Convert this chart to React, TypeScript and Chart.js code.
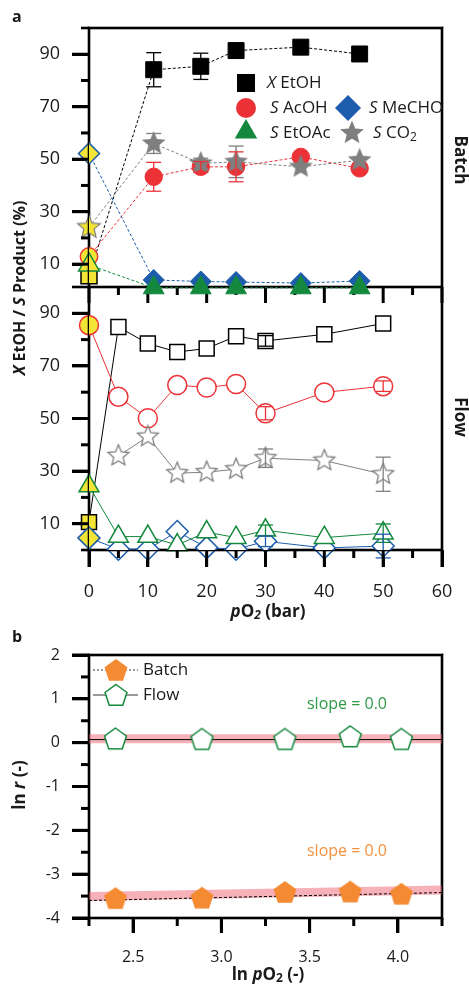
import React, { useEffect, useRef } from 'react';
import { Chart, registerables } from 'chart.js';

Chart.register(...registerables);

const FONT = '"Open Sans", "Liberation Sans", sans-serif';
const BLACK = '#000000';
const RED = '#ec3237';
const BLUE = '#1c5cab';
const GREEN = '#14893d';
const GREY = '#7f7f7f';
const YELLOW = '#f2e535';
const ORANGE = '#f48a32';
const WHITE = '#ffffff';
const BAND = 'rgba(238,100,115,0.5)';
const TXT = '#1a1a1a';

// ---------- Panel a: batch ----------
const batchP = [0, 11, 19, 25, 36, 46];
const batchXEtOH = [5.6, 84.1, 85.4, 91.4, 92.7, 90.1];
const batchXEtOHErr = [0, 6.5, 5, 0, 0, 0];
const batchSAcOH = [12.9, 43.3, 47.1, 47.1, 50.9, 46.5];
const batchSAcOHErr = [0, 5.5, 2, 5.7, 0, 0];
const batchSMeCHO = [52.2, 4.0, 3.4, 3.2, 2.8, 3.6];
const batchSEtOAc = [9.7, 1.0, 1.0, 1.0, 1.0, 1.0];
const batchSCO2 = [24, 56.0, 48.4, 49.0, 47.1, 49.6];
const batchSCO2Err = [0, 3.8, 2, 6, 0, 0];

// ---------- Panel a: flow ----------
const flowP = [0, 5, 10, 15, 20, 25, 30, 40, 50];
const flowXEtOH = [10.6, 84.8, 78.5, 75.3, 76.6, 81.3, 79.5, 82.0, 86.1];
const flowXEtOHErr = [0, 0, 0, 0, 0, 0, 2, 0, 0];
const flowSAcOH = [85.5, 58.3, 50.1, 62.7, 61.8, 63.1, 52.0, 59.9, 62.3];
const flowSAcOHErr = [0, 0, 0, 0, 0, 0, 2.5, 0, 2];
const flowSMeCHO = [4.6, 0.3, 0.3, 7.0, 0.9, 0.3, 3.3, 0.8, 1.5];
const flowSMeCHOErr = [0, 0, 0, 0, 0, 0, 2, 0, 4.5];
const flowSEtOAc = [24.3, 5.1, 5.1, 1.9, 6.8, 4.7, 7.5, 4.7, 6.4];
const flowSEtOAcErr = [0, 0, 0, 0, 0, 0, 2, 0, 3.5];
const flowPCO2 = [5, 10, 15, 20, 25, 30, 40, 50];
const flowSCO2 = [35.8, 43.1, 29.2, 29.6, 30.7, 34.9, 34.0, 28.8];
const flowSCO2Err = [0, 0, 0, 0, 0, 3.5, 0, 6.5];

// ---------- Panel b ----------
const lnP = [2.40, 2.89, 3.36, 3.73, 4.02];
const batchLnR = [-3.57, -3.56, -3.43, -3.42, -3.47];
const flowLnR = [0.07, 0.06, 0.06, 0.12, 0.06];
const fitX = [2.25, 4.25];
const flowFit = [0.07, 0.07];
const batchFit = [-3.6, -3.42];
const flowBand = [0.09, 0.09];
const batchBand = [-3.51, -3.36];

// ---------- ticks ----------
const xTicksA = [0, 10, 20, 30, 40, 50, 60];
const xMinorA = [5, 15, 25, 35, 45, 55];
const yTicksA = [10, 30, 50, 70, 90];
const yMinorA = [20, 40, 60, 80];
const xTicksB = [2.5, 3.0, 3.5, 4.0];
const xMinorB = [2.25, 2.75, 3.25, 3.75, 4.25];
const yTicksB = [-4, -3, -2, -1, 0, 1, 2];
const yMinorB = [-3.5, -2.5, -1.5, -0.5, 0.5, 1.5];

const pts = (xs: number[], ys: number[]) => xs.map((x, i) => ({ x, y: ys[i] }));

function tracePath(g: CanvasRenderingContext2D, shape: string, x: number, y: number, r: number) {
  g.beginPath();
  if (shape === 'circle') {
    g.arc(x, y, r, 0, Math.PI * 2);
  } else if (shape === 'square') {
    const s = r * Math.SQRT1_2;
    g.rect(x - s, y - s, 2 * s, 2 * s);
  } else if (shape === 'diamond') {
    g.moveTo(x - r, y); g.lineTo(x, y - r); g.lineTo(x + r, y); g.lineTo(x, y + r); g.closePath();
  } else if (shape === 'triangle') {
    g.moveTo(x, y - r); g.lineTo(x + 0.866 * r, y + 0.5 * r); g.lineTo(x - 0.866 * r, y + 0.5 * r); g.closePath();
  } else if (shape === 'star') {
    for (let i = 0; i < 10; i++) {
      const a = -Math.PI / 2 + (i * Math.PI) / 5;
      const rr = i % 2 === 0 ? r : r * 0.45;
      const px = x + rr * Math.cos(a);
      const py = y + rr * Math.sin(a);
      if (i === 0) g.moveTo(px, py); else g.lineTo(px, py);
    }
    g.closePath();
  } else if (shape === 'pentagon') {
    for (let i = 0; i < 5; i++) {
      const a = -Math.PI / 2 + (i * 2 * Math.PI) / 5;
      const px = x + r * Math.cos(a);
      const py = y + r * Math.sin(a);
      if (i === 0) g.moveTo(px, py); else g.lineTo(px, py);
    }
    g.closePath();
  }
}

function drawShape(g: CanvasRenderingContext2D, shape: string, x: number, y: number, r: number, fill: string | null, stroke: string | null, lw: number) {
  g.save();
  g.setLineDash([]);
  tracePath(g, shape, x, y, r);
  if (fill) { g.fillStyle = fill; g.fill(); }
  if (stroke && lw > 0) { g.lineWidth = lw; g.strokeStyle = stroke; g.lineJoin = 'miter'; g.stroke(); }
  g.restore();
}

function makeImage(shape: string, r: number, fill: string | null, stroke: string | null, lw: number) {
  const size = Math.ceil(2 * r + lw + 4);
  const c = document.createElement('canvas');
  c.width = size; c.height = size;
  const g = c.getContext('2d')!;
  drawShape(g, shape, size / 2, size / 2, r, fill, stroke, lw);
  return c;
}

type Part = { t: string; f: string; dy?: number };
function drawRich(g: CanvasRenderingContext2D, parts: Part[], x: number, y: number, angle: number, align: 'center' | 'left', color: string) {
  g.save();
  g.translate(x, y);
  g.rotate(angle);
  g.textBaseline = 'middle';
  g.textAlign = 'left';
  g.fillStyle = color;
  let w = 0;
  for (const p of parts) { g.font = p.f; w += g.measureText(p.t).width; }
  let cx = align === 'center' ? -w / 2 : 0;
  for (const p of parts) {
    g.font = p.f;
    g.fillText(p.t, cx, p.dy || 0);
    cx += g.measureText(p.t).width;
  }
  g.restore();
}

const fB = (s: number) => `bold ${s}px ${FONT}`;
const fBI = (s: number) => `italic bold ${s}px ${FONT}`;
const fR = (s: number) => `${s}px ${FONT}`;
const fI = (s: number) => `italic ${s}px ${FONT}`;

const AW = 2.6; // axis line width
const TW = 3; // tick width

function hbar(g: CanvasRenderingContext2D, x1: number, x2: number, y: number, w: number) {
  g.fillStyle = BLACK;
  g.fillRect(Math.min(x1, x2), y - w / 2, Math.abs(x2 - x1), w);
}
function vbar(g: CanvasRenderingContext2D, x: number, y1: number, y2: number, w: number) {
  g.fillStyle = BLACK;
  g.fillRect(x - w / 2, Math.min(y1, y2), w, Math.abs(y2 - y1));
}

function seg(g: CanvasRenderingContext2D, x1: number, y1: number, x2: number, y2: number) {
  g.beginPath();
  g.moveTo(x1, y1);
  g.lineTo(x2, y2);
  g.stroke();
}

function frameInner(g: CanvasRenderingContext2D, a: any) {
  const h = AW / 2;
  g.fillStyle = BLACK;
  g.fillRect(a.left, a.top, a.right - a.left, h);
  g.fillRect(a.left, a.bottom - h, a.right - a.left, h);
  g.fillRect(a.left, a.top, h, a.bottom - a.top);
  g.fillRect(a.right - h, a.top, h, a.bottom - a.top);
}
function frameOuter(g: CanvasRenderingContext2D, a: any) {
  const h = AW / 2;
  g.fillStyle = BLACK;
  g.fillRect(a.left - h, a.top - h, a.right - a.left + 2 * h, h);
  g.fillRect(a.left - h, a.bottom, a.right - a.left + 2 * h, h);
  g.fillRect(a.left - h, a.top - h, h, a.bottom - a.top + 2 * h);
  g.fillRect(a.right, a.top - h, h, a.bottom - a.top + 2 * h);
}

function drawErrorBars(chart: any) {
  const g = chart.ctx;
  chart.data.datasets.forEach((ds: any, i: number) => {
    if (!ds.errors) return;
    const meta = chart.getDatasetMeta(i);
    const ys = chart.scales[ds.yAxisID || 'y'];
    g.save();
    g.strokeStyle = ds.borderColor;
    g.lineWidth = 1.3;
    g.setLineDash([]);
    ds.errors.forEach((e: number, j: number) => {
      if (!e) return;
      const x = meta.data[j].x;
      const v = ds.data[j].y;
      const y1 = ys.getPixelForValue(v + e);
      const y2 = ys.getPixelForValue(v - e);
      seg(g, x, y1, x, y2);
      seg(g, x - 7.5, y1, x + 7.5, y1);
      seg(g, x - 7.5, y2, x + 7.5, y2);
    });
    g.restore();
  });
}

const pluginA = {
  id: 'panelA',
  beforeDatasetsDraw(chart: any) {
    const g = chart.ctx;
    const a = chart.chartArea;
    const xs = chart.scales.x, yf = chart.scales.yFlow;
    g.save();
    frameInner(g, a);
    hbar(g, a.left, a.right, yf.top, AW);
    xTicksA.forEach((v) => vbar(g, xs.getPixelForValue(v), yf.top, yf.top + 16, TW));
    xMinorA.forEach((v) => vbar(g, xs.getPixelForValue(v), yf.top, yf.top + 8, TW));
    g.restore();
  },
  afterDatasetsDraw(chart: any) {
    drawErrorBars(chart);
  },
  afterDraw(chart: any) {
    const g = chart.ctx;
    const a = chart.chartArea;
    const xs = chart.scales.x, yb = chart.scales.yBatch, yf = chart.scales.yFlow;
    g.save();
    frameOuter(g, a);
    const L = a.left;
    yTicksA.forEach((v) => {
      hbar(g, L - 17, L, yb.getPixelForValue(v), TW);
      hbar(g, L - 17, L, yf.getPixelForValue(v), TW);
    });
    yMinorA.forEach((v) => {
      hbar(g, L - 8, L, yb.getPixelForValue(v), TW);
      hbar(g, L - 8, L, yf.getPixelForValue(v), TW);
    });
    hbar(g, L - 8, L, a.top, AW);
    hbar(g, L - 17, L, yf.top, AW);
    hbar(g, L - 8, L, a.bottom, AW);
    xTicksA.forEach((v) => vbar(g, xs.getPixelForValue(v), a.bottom, a.bottom + 17, TW));
    xMinorA.forEach((v) => vbar(g, xs.getPixelForValue(v), a.bottom, a.bottom + 8, TW));
    g.restore();

    drawRich(g, [{ t: 'a', f: fB(16) }], 12, 17, 0, 'left', TXT);
    drawRich(g, [
      { t: 'X', f: fBI(16) }, { t: ' EtOH / ', f: fB(16) },
      { t: 'S', f: fBI(16) }, { t: ' Product (%)', f: fB(16) },
    ], 20, 288, -Math.PI / 2, 'center', TXT);
    drawRich(g, [
      { t: 'p', f: fBI(17) }, { t: 'O', f: fB(17) }, { t: '2', f: fBI(12), dy: 4 }, { t: ' (bar)', f: fB(17) },
    ], 268, 612, 0, 'center', TXT);
    drawRich(g, [{ t: 'Batch', f: fB(17) }], 460, 160, Math.PI / 2, 'center', TXT);
    drawRich(g, [{ t: 'Flow', f: fB(17) }], 460, 417, Math.PI / 2, 'center', TXT);
    drawShape(g, 'square', 246, 83, 12.7, BLACK, null, 0);
    drawRich(g, [{ t: 'X', f: fI(17) }, { t: ' EtOH', f: fR(17) }], 267, 83, 0, 'left', TXT);
    drawShape(g, 'circle', 246, 108, 10, RED, null, 0);
    drawRich(g, [{ t: 'S', f: fI(17) }, { t: ' AcOH', f: fR(17) }], 270, 108, 0, 'left', TXT);
    drawShape(g, 'diamond', 348, 108, 13, BLUE, null, 0);
    drawRich(g, [{ t: 'S', f: fI(17) }, { t: ' MeCHO', f: fR(17) }], 369, 108, 0, 'left', TXT);
    drawShape(g, 'triangle', 246, 132, 13, GREEN, null, 0);
    drawRich(g, [{ t: 'S', f: fI(17) }, { t: ' EtOAc', f: fR(17) }], 270, 133, 0, 'left', TXT);
    drawShape(g, 'star', 352, 133, 12.5, GREY, null, 0);
    drawRich(g, [{ t: 'S', f: fI(17) }, { t: ' CO', f: fR(17) }, { t: '2', f: fR(12), dy: 5 }], 373, 133, 0, 'left', TXT);
  },
};

const pluginB = {
  id: 'panelB',
  beforeDatasetsDraw(chart: any) {
    const g = chart.ctx;
    g.save();
    frameInner(g, chart.chartArea);
    g.restore();
  },
  afterDraw(chart: any) {
    const g = chart.ctx;
    const a = chart.chartArea;
    const xs = chart.scales.x, ys = chart.scales.y;
    g.save();
    frameOuter(g, a);
    const L = a.left;
    yTicksB.forEach((v) => hbar(g, L - 17, L, ys.getPixelForValue(v), TW));
    yMinorB.forEach((v) => hbar(g, L - 8, L, ys.getPixelForValue(v), TW));
    xTicksB.forEach((v) => vbar(g, xs.getPixelForValue(v), a.bottom, a.bottom + 15, TW));
    xMinorB.forEach((v) => vbar(g, xs.getPixelForValue(v), a.bottom, a.bottom + 8, TW));
    g.restore();

    drawRich(g, [{ t: 'b', f: fB(16) }], 12, 9, 0, 'left', TXT);
    drawRich(g, [{ t: 'ln ', f: fB(17) }, { t: 'r', f: fBI(17) }, { t: ' (-)', f: fB(17) }], 20, 157, -Math.PI / 2, 'center', TXT);
    drawRich(g, [
      { t: 'ln ', f: fB(17) }, { t: 'p', f: fBI(17) }, { t: 'O', f: fB(17) }, { t: '2', f: fB(12), dy: 4 }, { t: ' (-)', f: fB(17) },
    ], 268, 347, 0, 'center', TXT);
    g.save();
    g.strokeStyle = '#333333';
    g.lineWidth = 1;
    g.setLineDash([2, 2]);
    seg(g, 93, 42, 138, 42);
    g.setLineDash([]);
    seg(g, 93, 67, 138, 67);
    g.restore();
    drawShape(g, 'pentagon', 116, 43, 12, ORANGE, null, 0);
    drawShape(g, 'pentagon', 116, 68, 11.5, WHITE, GREEN, 1.5);
    drawRich(g, [{ t: 'Batch', f: fR(17) }], 143, 42, 0, 'left', TXT);
    drawRich(g, [{ t: 'Flow', f: fR(17) }], 143, 67, 0, 'left', TXT);
    drawRich(g, [{ t: 'slope = 0.0', f: fR(16) }], 347, 76, 0, 'center', '#2e9a46');
    drawRich(g, [{ t: 'slope = 0.0', f: fR(16) }], 347, 223, 0, 'center', '#f4913f');
  },
};

const majorGrid = (len: number) => ({
  display: true,
  drawOnChartArea: false,
  drawTicks: true,
  tickLength: len,
  tickWidth: TW,
  tickColor: BLACK,
  color: BLACK,
  lineWidth: TW,
});

function batchDs(label: string, ys: number[], errs: number[] | null, color: string, style: any, radius: number) {
  return {
    label,
    data: pts(batchP, ys),
    errors: errs,
    yAxisID: 'yBatch',
    showLine: true,
    borderColor: color,
    borderWidth: 1,
    borderDash: [3, 2],
    pointStyle: style,
    pointRadius: radius,
    pointBackgroundColor: batchP.map((_, i) => (i === 0 ? YELLOW : color)),
    pointBorderColor: color,
    pointBorderWidth: batchP.map((_, i) => (i === 0 ? 1.5 : 1)),
    clip: false,
  };
}

function flowDs(label: string, xs: number[], ys: number[], errs: number[] | null, color: string, style: any, radius: number, yellowFirst: boolean) {
  return {
    label,
    data: pts(xs, ys),
    errors: errs,
    yAxisID: 'yFlow',
    showLine: true,
    borderColor: color,
    borderWidth: 1,
    pointStyle: style,
    pointRadius: radius,
    pointBackgroundColor: xs.map((_, i) => (i === 0 && yellowFirst ? YELLOW : WHITE)),
    pointBorderColor: color,
    pointBorderWidth: 1.5,
    clip: false,
  };
}

function configA(): any {
  const yellowStar = makeImage('star', 12, YELLOW, GREY, 1.2);
  const greyStar = makeImage('star', 12.5, GREY, null, 0);
  const openStar = makeImage('star', 11, WHITE, GREY, 1.3);
  const tickFont = { family: FONT, size: 18 };
  const yScale = (min: number, weight: number, sw: number) => ({
    type: 'linear',
    position: 'left',
    stack: 'a',
    stackWeight: sw,
    weight,
    min,
    max: 100,
    afterBuildTicks: (s: any) => { s.ticks = yTicksA.map(v => ({ value: v })); },
    afterFit: (s: any) => { s.width = 89; },
    ticks: { font: tickFont, color: TXT, padding: 12, autoSkip: false },
    grid: majorGrid(17),
    border: { display: false },
  });
  return {
    type: 'scatter',
    data: {
      datasets: [
        batchDs('S EtOAc batch', batchSEtOAc, null, GREEN, 'triangle', 12),
        batchDs('S MeCHO batch', batchSMeCHO, null, BLUE, 'rectRot', 10.5),
        { ...batchDs('S CO2 batch', batchSCO2, batchSCO2Err, GREY, 'star', 12), pointStyle: batchP.map((_, i) => (i === 0 ? yellowStar : greyStar)) },
        batchDs('S AcOH batch', batchSAcOH, batchSAcOHErr, RED, 'circle', 8.7),
        batchDs('X EtOH batch', batchXEtOH, batchXEtOHErr, BLACK, 'rect', 11.3),
        flowDs('S EtOAc flow', flowP, flowSEtOAc, flowSEtOAcErr, GREEN, 'triangle', 11.5, true),
        flowDs('S MeCHO flow', flowP, flowSMeCHO, flowSMeCHOErr, BLUE, 'rectRot', 11, true),
        { ...flowDs('S CO2 flow', flowPCO2, flowSCO2, flowSCO2Err, GREY, 'star', 11, false), pointStyle: openStar },
        flowDs('S AcOH flow', flowP, flowSAcOH, flowSAcOHErr, RED, 'circle', 9.5, true),
        flowDs('X EtOH flow', flowP, flowXEtOH, flowXEtOHErr, BLACK, 'rect', 10.6, true),
      ],
    },
    options: {
      animation: false,
      responsive: false,
      devicePixelRatio: 1,
      events: [],
      layout: { padding: { left: 0, right: 27, top: 28, bottom: 0 } },
      plugins: { legend: { display: false }, tooltip: { enabled: false } },
      scales: {
        x: {
          type: 'linear',
          position: 'bottom',
          min: 0,
          max: 60,
          afterBuildTicks: (s: any) => { s.ticks = xTicksA.map(v => ({ value: v })); },
          afterFit: (s: any) => { s.height = 78; },
          ticks: { font: tickFont, color: TXT, padding: 14, autoSkip: false, maxRotation: 0 },
          grid: majorGrid(17),
          border: { display: false },
        },
        yFlow: yScale(0, 0, 263),
        yBatch: yScale(1.3, 1, 259),
      },
    },
    plugins: [pluginA],
  };
}

function configB(): any {
  const orangePent = makeImage('pentagon', 12, ORANGE, null, 0);
  const openPent = makeImage('pentagon', 11.5, WHITE, GREEN, 1.5);
  const tickFont = { family: FONT, size: 16 };
  return {
    type: 'scatter',
    data: {
      datasets: [
        { label: 'Flow', data: pts(lnP, flowLnR), pointStyle: openPent, pointRadius: 11, clip: false },
        { label: 'Batch', data: pts(lnP, batchLnR), pointStyle: orangePent, pointRadius: 11, clip: false },
        { label: 'Flow fit', data: pts(fitX, flowFit), showLine: true, borderColor: BLACK, borderWidth: 1, pointRadius: 0 },
        { label: 'Batch fit', data: pts(fitX, batchFit), showLine: true, borderColor: BLACK, borderWidth: 1, borderDash: [3, 2], pointRadius: 0 },
        { label: 'Flow band', data: pts(fitX, flowBand), showLine: true, borderColor: BAND, borderWidth: 9, borderCapStyle: 'butt', pointRadius: 0 },
        { label: 'Batch band', data: pts(fitX, batchBand), showLine: true, borderColor: BAND, borderWidth: 9, borderCapStyle: 'butt', pointRadius: 0 },
      ],
    },
    options: {
      animation: false,
      responsive: false,
      devicePixelRatio: 1,
      events: [],
      layout: { padding: { left: 0, right: 27, top: 27, bottom: 0 } },
      plugins: { legend: { display: false }, tooltip: { enabled: false } },
      scales: {
        x: {
          type: 'linear',
          min: 2.25,
          max: 4.25,
          afterBuildTicks: (s: any) => { s.ticks = xTicksB.map(v => ({ value: v })); },
          afterFit: (s: any) => { s.height = 71; },
          ticks: { font: tickFont, color: TXT, padding: 15, autoSkip: false, maxRotation: 0, callback: (v: any) => Number(v).toFixed(1) },
          grid: majorGrid(15),
          border: { display: false },
        },
        y: {
          type: 'linear',
          min: -4,
          max: 2,
          afterBuildTicks: (s: any) => { s.ticks = yTicksB.map(v => ({ value: v })); },
          afterFit: (s: any) => { s.width = 89; },
          ticks: { font: tickFont, color: TXT, padding: 12, autoSkip: false },
          grid: majorGrid(17),
          border: { display: false },
        },
      },
    },
    plugins: [pluginB],
  };
}

export default function App() {
  const refA = useRef<HTMLCanvasElement>(null);
  const refB = useRef<HTMLCanvasElement>(null);
  useEffect(() => {
    const ca = new Chart(refA.current as HTMLCanvasElement, configA());
    const cb = new Chart(refB.current as HTMLCanvasElement, configB());
    return () => { ca.destroy(); cb.destroy(); };
  }, []);
  return (
    <div style={{ position: 'absolute', left: 0, top: 0, width: 469, height: 989, background: '#ffffff' }}>
      <canvas ref={refA} width={469} height={628} style={{ position: 'absolute', left: 0, top: 0 }} />
      <canvas ref={refB} width={469} height={361} style={{ position: 'absolute', left: 0, top: 628 }} />
    </div>
  );
}
